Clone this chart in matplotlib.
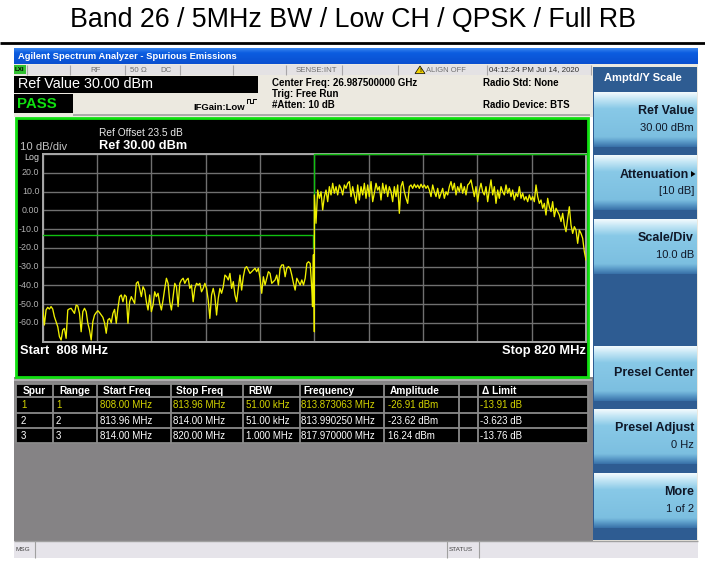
import numpy as np
import matplotlib
matplotlib.use("Agg")
import matplotlib.pyplot as plt
from matplotlib.patches import Rectangle, Polygon
from matplotlib.colors import to_rgb

plt.rcParams['font.family'] = ['Liberation Sans', 'DejaVu Sans']

# ---------------- data ----------------
title = "Band 26 / 5MHz BW / Low CH / QPSK / Full RB"
start_freq = 808.0
stop_freq = 820.0
ref_level = 30.0
db_per_div = 10.0
y_labels = ["Log", "20.0", "10.0", "0.00", "-10.0", "-20.0", "-30.0", "-40.0", "-50.0", "-60.0"]

range_start = [808.00, 813.96, 814.00]
range_stop = [813.96, 814.00, 820.00]
range_limit = [-13.0, -20.0, 30.0]

# range 1 sweep (808 .. 813.95 MHz), dBm
left_trace = [
    -52.2, -61.1, -53.1, -51.7, -52.6, -51.3, -52.6, -56.7, -59.3, -62.0,
    -67.3, -69.1, -63.8, -62.9, -68.2, -53.1, -52.5, -52.2, -53.5, -54.9, -50.5,
    -51.0, -54.9, -64.7, -54.0, -52.2, -54.0, -60.2, -63.8, -69.1, -59.3,
    -55.8, -54.5, -53.5, -54.5, -55.8, -57.0, -60.0, -65.5, -58.4, -57.6, -59.9, -54.9,
    -52.8, -60.2, -52.2, -46.0, -45.1, -48.7, -45.1, -46.0, -60.2, -48.7,
    -46.0, -47.8, -49.6, -38.9, -38.0, -41.6, -46.0, -40.7, -42.5, -48.7,
    -53.1, -45.1, -54.0, -50.5, -43.4, -46.0, -44.2, -49.6, -53.1, -47.8,
    -41.6, -36.2, -38.9, -48.7, -53.1, -46.0, -38.9, -40.7, -51.3, -38.9,
    -37.1, -36.2, -38.9, -37.1, -36.2, -41.6, -39.8, -48.7, -41.6, -38.9,
    -39.8, -38.9, -43.4, -41.6, -38.9, -41.6, -47.8, -57.6, -45.1, -41.6,
    -46.0, -55.8, -46.9, -41.6, -44.2, -40.7, -34.5, -35.4, -37.1, -33.6,
    -41.6, -38.0, -45.1, -48.7, -41.6, -34.5, -42.5, -35.4, -30.9, -30.0,
    -31.8, -33.6, -32.7, -31.8, -30.9, -32.7, -30.9, -36.2, -44.2, -35.4,
    -39.8, -36.2, -32.7, -33.6, -38.9, -38.0, -37.1, -34.5, -39.8, -30.9,
    -29.1, -29.1, -35.4, -30.9, -30.0, -30.9, -34.5, -38.9, -42.5, -36.2,
    -38.0, -39.8, -37.1, -39.8, -36.2, -28.3, -27.4, -28.3, -42.5,
]
# range 2 (band edge) points
edge_freq = [813.96, 813.975, 813.99, 814.0]
edge_trace = [-51.3, -23.8, -23.6, -64.7]
# range 3 sweep (814 .. 820 MHz), dBm
right_trace = [
    8.2, -6.9, 10.8, 6.4, 9.9, 0.2, 7.3, 10.8, 4.6, 12.6,
    8.2, 14.4, 9.1, 12.6, 8.2, 13.5, 11.7, 8.2, 13.5, 11.7,
    14.4, 15.3, 7.3, 12.6, 8.2, 3.7, 13.5, 5.5, 12.6, 8.2,
    14.4, 6.4, 13.5, 7.3, 15.3, 4.6, 9.1, 14.4, 10.8, 12.6,
    5.5, 14.4, 9.1, 13.5, 7.3, 12.6, 9.9, 4.6, 12.6, 7.3,
    13.5, -1.6, 12.6, 15.3, 9.9, 6.4, 3.7, 12.6, 13.5, 11.7,
    13.9, 12.1, 13.5, 11.7, 13.9, 12.1, 13.5, 11.7, 13.1, 10.8,
    7.3, 13.5, 9.9, 7.3, 11.7, 6.4, 9.1, 11.7, 6.4, 9.9,
    8.2, 12.6, 15.3, 10.8, 14.4, 8.2, 12.6, 9.9, 14.4, 9.1,
    12.6, 8.2, 13.5, 14.4, 16.2, 11.7, 7.3, 12.6, 4.6, 10.8,
    14.4, 9.9, 8.2, 12.6, 4.6, 10.8, 16.2, 8.2, 12.6, 3.7,
    10.8, 6.4, 12.6, 9.9, 8.2, 13.5, 9.1, 11.7, 7.3, 10.8,
    5.5, 9.1, 7.3, 12.6, 6.4, 9.1, 5.5, 7.3, 4.6, 8.2,
    5.5, 7.3, 4.6, 13.5, 7.3, 3.7, 5.5, 1.1, 3.7, -2.5,
    6.4, 1.9, -0.7, 4.6, -3.4, 1.1, -0.7, -2.5, -6.0, -1.6,
    -7.8, -11.4, -4.3, 1.9, -7.8, -12.3, -8.7, -10.5, -17.6, -10.5,
    -12.3, -14.9, -22.0, -26.5,
]

spur_cols = ["Spur", "Range", "Start Freq", "Stop Freq", "RBW", "Frequency", "Amplitude", "", "\u0394 Limit"]
spur_rows = [
    ["1", "1", "808.00 MHz", "813.96 MHz", "51.00 kHz", "813.873063 MHz", "-26.91 dBm", "", "-13.91 dB"],
    ["2", "2", "813.96 MHz", "814.00 MHz", "51.00 kHz", "813.990250 MHz", "-23.62 dBm", "", "-3.623 dB"],
    ["3", "3", "814.00 MHz", "820.00 MHz", "1.000 MHz", "817.970000 MHz", "16.24 dBm", "", "-13.76 dB"],
]
softkeys = [("Ref Value", "30.00 dBm"), ("Attenuation", "[10 dB]"), ("Scale/Div", "10.0 dB"),
            None, ("Presel Center", ""), ("Presel Adjust", "0 Hz"), ("More", "1 of 2")]

# ---------------- figure ----------------
W, H = 705, 565
fig = plt.figure(figsize=(W / 100, H / 100), dpi=100)
fig.patch.set_facecolor('white')
bg = fig.add_axes([0, 0, 1, 1])
bg.set_xlim(0, W)
bg.set_ylim(H, 0)
bg.axis('off')


def rect(x0, y0, x1, y1, fc, ec='none', lw=0, z=1):
    bg.add_patch(Rectangle((x0, y0), x1 - x0, y1 - y0, facecolor=fc, edgecolor=ec, linewidth=lw, zorder=z))


def hline(x0, x1, y, c, lw=1, z=3):
    bg.plot([x0, x1], [y, y], color=c, lw=lw, zorder=z, solid_capstyle='butt')


def vline(x, y0, y1, c, lw=1, z=3):
    bg.plot([x, x], [y0, y1], color=c, lw=lw, zorder=z, solid_capstyle='butt')


def txt(x, y, s, size, color='black', weight='normal', ha='left', va='center', z=5):
    bg.text(x, y, s, fontsize=size, color=color, fontweight=weight, ha=ha, va=va, zorder=z)


def grad(x0, y0, x1, y1, stops, z=2):
    n = 64
    pos = np.array([p for p, _ in stops])
    cols = np.array([to_rgb(c) for _, c in stops])
    t = np.linspace(0, 1, n)
    arr = np.stack([np.interp(t, pos, cols[:, k]) for k in range(3)], axis=1)[:, None, :]
    bg.imshow(arr, extent=(x0, x1, y1, y0), origin='upper', aspect='auto', zorder=z, interpolation='bilinear')


# title
txt(W / 2, 20, title, 19.3, ha='center')
hline(0, W, 43, 'black', lw=2)

# window title bar
grad(14, 48, 698, 64, [(0, '#3a86f0'), (0.3, '#0c5de0'), (1, '#0a4fd0')])
txt(18, 56.5, "Agilent Spectrum Analyzer - Spurious Emissions", 6.75, 'white', 'bold')

# beige panel
rect(14, 64, 593, 117, '#ece9e0')
# info row
rect(14, 64.5, 591, 75, '#e4e2e4', z=2)
for xs in [27, 70, 125, 180, 233, 286, 342, 398, 487, 591]:
    vline(xs, 64.5, 75, '#a8a6a8', lw=0.8)
rect(14, 65, 26, 74, '#30c030', z=3)
txt(15, 69.5, "LXI", 4.5, 'black', 'bold')
txt(96, 70, "RF", 5.7, '#707070', ha='center')
txt(130, 70, "50 \u03a9", 5.7, '#707070')
txt(160, 70, "DC", 5.7, '#707070')
txt(316, 70, "SENSE:INT", 5.7, '#707070', ha='center')
bg.add_patch(Polygon([[415, 73.5], [425, 73.5], [420, 66]], closed=True, facecolor='#f0d000', edgecolor='black', lw=0.5, zorder=4))
txt(420, 70.5, "!", 4.2, 'black', 'bold', ha='center')
txt(425.5, 70, "ALIGN OFF", 5.4, '#707070')
txt(489, 70, "04:12:24 PM Jul 14, 2020", 5.7, '#303030')

# Ref value / PASS boxes
rect(14, 76, 258, 92.5, 'black', z=3)
txt(18, 84.5, "Ref Value 30.00 dBm", 10.4, 'white')
rect(14, 94, 73, 113, 'black', z=3)
txt(17.5, 103.5, "PASS", 10.8, '#10e010', 'bold')
hline(73, 590, 114.5, '#a0a0a0', lw=1.2)
txt(193, 108, "IFGain:Low", 6.8, 'black', 'bold')
# trigger icon
bg.plot([247, 247, 250, 250, 253, 253, 256], [103, 99, 99, 103, 103, 99, 99], color='black', lw=0.7, zorder=4)
txt(272, 83, "Center Freq: 26.987500000 GHz", 7.0, 'black', 'bold')
txt(272, 94, "Trig: Free Run", 7.0, 'black', 'bold')
txt(272, 105, "#Atten: 10 dB", 7.0, 'black', 'bold')
txt(483, 83, "Radio Std: None", 7.0, 'black', 'bold')
txt(483, 105, "Radio Device: BTS", 7.0, 'black', 'bold')

# display
rect(16, 117.5, 588, 377, 'black', ec='#10e010', lw=2, z=2)
txt(19.5, 147, "10 dB/div", 8.1, '#c0c0c0')
txt(99, 133, "Ref Offset 23.5 dB", 7.3, '#e8e8e8')
txt(99, 146, "Ref 30.00 dBm", 9.2, 'white', 'bold')
txt(19.5, 351, "Start  808 MHz", 9.3, 'white', 'bold')
txt(586, 351, "Stop 820 MHz", 9.3, 'white', 'bold', ha='right')

# table area
rect(14, 377, 593, 541, '#858385', z=1)
hline(14, 592, 380, '#b0aeb0', lw=1.5)
col_x = [16, 53, 97, 171, 243, 300, 384, 459, 478, 588]
row_y = [384, 397, 412.5, 428, 443]
head_off = [7, 6.3, 6.3, 5, 5, 3, 6, 0, 3.7]
cell_off = [5, 3, 3, 1.7, 2.7, 1, 3.7, 0, 2]
rect(16, 384, 588, 443, 'black', z=2)
for xv in col_x:
    vline(xv, 384, 443, '#8a8a8a', lw=1.3)
for yv in row_y:
    hline(16, 588, yv, '#8a8a8a', lw=1.3)
for i, name in enumerate(spur_cols):
    txt(col_x[i] + head_off[i], (row_y[0] + row_y[1]) / 2 + 0.5, name, 7.3, 'white', 'bold')
for r, row in enumerate(spur_rows):
    c = '#d4d400' if r == 0 else 'white'
    yc = (row_y[r + 1] + row_y[r + 2]) / 2 + 0.5
    for i, s in enumerate(row):
        txt(col_x[i] + cell_off[i], yc, s, 7.0, c)

# status bar
rect(14, 541, 698, 558, '#e6e4ea', z=1)
hline(14, 698, 541, '#a0a0a0', lw=1)
vline(35, 541, 558, '#a0a0a0', lw=0.8)
vline(447, 541, 558, '#a0a0a0', lw=0.8)
vline(479, 541, 558, '#a0a0a0', lw=0.8)
txt(16, 549.5, "MSG", 4.6, '#404040')
txt(449, 549.5, "STATUS", 4.6, '#404040')

# right softkey panel
rect(593, 64, 698, 541, '#ece9e0', z=1)
rect(593, 67, 697, 540, '#2e5c92', z=2)
txt(643, 78, "Amptd/Y Scale", 8.0, 'white', 'bold', ha='center')
btn_tops = [92, 155.5, 219, 282.5, 346, 409.5, 473]
for top, key in zip(btn_tops, softkeys):
    if key is None:
        continue
    bot = top + 55
    grad(594, top, 697, bot, [(0, '#f2fafd'), (0.12, '#c4e6f5'), (0.3, '#88c9e7'), (0.82, '#7cbfe0'),
                               (0.9, '#5e9fcb'), (1, '#3a72aa')], z=3)
    xr = 689 if key[0] == "Attenuation" else 694
    if key[1]:
        txt(xr, top + 19, key[0], 9.0, '#101828', 'bold', ha='right')
        txt(694, top + 36, key[1], 8.0, '#101828', ha='right')
    else:
        txt(xr, top + 27, key[0], 9.0, '#101828', 'bold', ha='right')
bg.add_patch(Polygon([[691, 171], [691, 177], [695.5, 174]], closed=True, facecolor='black', zorder=6))

# ---------------- spectrum axes ----------------
gx0, gx1, gy0, gy1 = 42.7, 586.0, 154.0, 341.7
ax = fig.add_axes([gx0 / W, 1 - gy1 / H, (gx1 - gx0) / W, (gy1 - gy0) / H])
ax.set_facecolor('black')
ax.set_xlim(start_freq, stop_freq)
ax.set_ylim(ref_level - 10 * db_per_div, ref_level)
ax.set_xticks(np.linspace(start_freq, stop_freq, 11))
ax.set_yticks([ref_level - k * db_per_div for k in range(11)])
ax.grid(True, color='#707070', lw=1)
ax.tick_params(length=0, labelbottom=False, labelleft=False)
for sp in ax.spines.values():
    sp.set_color('#a8a8a8')
    sp.set_linewidth(1.4)
for k, lab in enumerate(y_labels):
    yv = ref_level - k * db_per_div - (2.0 if k == 0 else 0.0)
    ax.text(-0.006, yv, lab, transform=ax.get_yaxis_transform(),
            ha='right', va='center', fontsize=6.4, color='#d8d8d8' if k == 0 else '#b0b0b0')

# limit line
lim_f, lim_v = [], []
for a, b, v in zip(range_start, range_stop, range_limit):
    lim_f += [a, b]
    lim_v += [v, v]
ax.plot(lim_f, lim_v, color='#10c010', lw=1, zorder=3, clip_on=False)

# trace
lf = np.linspace(808.0, 813.945, len(left_trace))
rf = np.linspace(814.0, 820.0, len(right_trace))
fx = np.concatenate([lf, edge_freq, rf])
fy = np.concatenate([left_trace, edge_trace, right_trace])
ax.plot(fx, fy, color='#f0f000', lw=0.95, zorder=4)

fig.savefig('out.png', dpi=100, facecolor='white')
